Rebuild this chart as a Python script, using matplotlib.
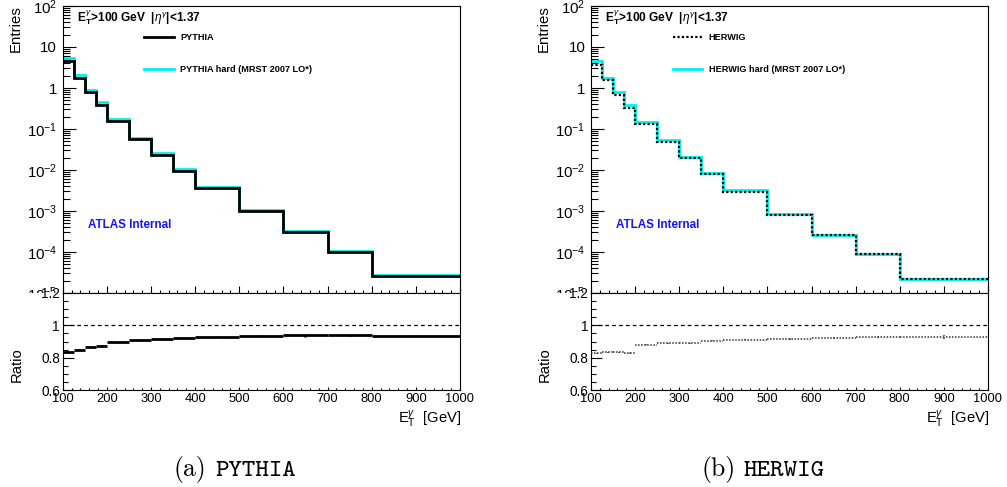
import numpy as np
import matplotlib
matplotlib.use("Agg")
import matplotlib.pyplot as plt
from matplotlib.ticker import FixedLocator, MultipleLocator, LogLocator, NullFormatter, FuncFormatter
from matplotlib.patches import Rectangle

plt.rcParams['font.family'] = ['Liberation Sans', 'DejaVu Sans']
plt.rcParams['mathtext.fontset'] = 'custom'
plt.rcParams['mathtext.rm'] = 'Liberation Sans'
plt.rcParams['mathtext.it'] = 'Liberation Sans:italic'
plt.rcParams['mathtext.bf'] = 'Liberation Sans:bold'
plt.rcParams['mathtext.sf'] = 'Liberation Sans'

# photon E_T binning [GeV]
edges = [100, 125, 150, 175, 200, 250, 300, 350, 400, 500, 600, 700, 800, 1000]

# PYTHIA
pythia_nominal = [4.6, 1.77, 0.79, 0.384, 0.161, 0.0565, 0.0238, 0.00964,
                  0.00363, 9.8e-4, 3.08e-4, 1.02e-4, 2.6e-5]
pythia_hard = [5.25, 2.05, 0.91, 0.445, 0.177, 0.062, 0.0256, 0.0104,
               0.00384, 1.06e-3, 3.25e-4, 1.08e-4, 2.75e-5]
pythia_ratio = [0.832, 0.849, 0.866, 0.874, 0.895, 0.907, 0.915, 0.923,
                0.930, 0.936, 0.938, 0.940, 0.936]
pythia_ratio_err = [0.004, 0.003, 0.003, 0.005, 0.003, 0.003, 0.006, 0.003,
                    0.003, 0.004, 0.008, 0.003, 0.004]

# HERWIG
herwig_nominal = [3.7, 1.53, 0.68, 0.33, 0.132, 0.047, 0.0194, 0.0078,
                  0.0029, 8.0e-4, 2.55e-4, 8.7e-5, 2.15e-5]
herwig_hard = [4.45, 1.74, 0.787, 0.39, 0.147, 0.0525, 0.0209, 0.00847,
               0.00319, 8.47e-4, 2.65e-4, 9.1e-5, 2.25e-5]
herwig_ratio = [0.826, 0.832, 0.832, 0.828, 0.880, 0.888, 0.888, 0.905,
                0.911, 0.915, 0.921, 0.928, 0.928]
herwig_ratio_err = [0.003, 0.003, 0.003, 0.004, 0.003, 0.003, 0.003, 0.003,
                    0.003, 0.004, 0.005, 0.005, 0.012]

W, H = 1007, 487
fig = plt.figure(figsize=(W / 100, H / 100), dpi=100)

CYAN = '#00f0f0'
DOT = (0, (1, 1))


def px(x0, y0, x1, y1):
    """Pixel box (top-left origin) to figure fraction rect."""
    return [x0 / W, 1 - y1 / H, (x1 - x0) / W, (y1 - y0) / H]


def log_label(v, pos):
    e = int(round(np.log10(v)))
    if e == 0:
        return '1'
    if e == 1:
        return '10'
    return r'$10^{%d}$' % e


def panel(x_left, x_right, nominal, hard, ratio, ratio_err,
          name, nominal_style, tag):
    top, mid, bot = 6, 293, 390
    shift = x_left - 62.7
    ax = fig.add_axes(px(x_left, top, x_right, mid), zorder=0)
    rx = fig.add_axes(px(x_left, mid, x_right, bot), zorder=2)

    e = np.array(edges, dtype=float)
    # main spectra
    ax.stairs(hard, e, baseline=None, color=CYAN, lw=2.0, zorder=2,
              label=f'{name} hard (MRST 2007 LO*)')
    if nominal_style == 'solid':
        ax.stairs(nominal, e, baseline=None, color='black', lw=2.0, zorder=3,
                  label=name)
    else:
        ax.stairs(nominal, e, baseline=None, color='black', lw=1.6,
                  linestyle=DOT, zorder=3, label=name)
    ax.set_yscale('log')
    ax.set_xlim(100, 1000)
    ax.set_ylim(1e-5, 1e2)
    ax.yaxis.set_major_locator(LogLocator(base=10, numticks=20))
    ax.yaxis.set_minor_locator(LogLocator(base=10, subs=np.arange(2, 10), numticks=20))
    ax.yaxis.set_minor_formatter(NullFormatter())
    ax.yaxis.set_major_formatter(FuncFormatter(log_label))
    ax.xaxis.set_major_locator(MultipleLocator(100))
    ax.xaxis.set_minor_locator(MultipleLocator(20))
    ax.tick_params(axis='x', which='both', direction='in', labelbottom=False)
    ax.tick_params(axis='x', which='major', length=5, width=0.8)
    ax.tick_params(axis='x', which='minor', length=2.5, width=0.8)
    ax.tick_params(axis='y', which='major', direction='in', length=9.5,
                   width=0.8, labelsize=10.8, pad=4)
    ax.tick_params(axis='y', which='minor', direction='in', length=5, width=0.8)
    for s in ax.spines.values():
        s.set_linewidth(0.8)

    # annotations (pixel positions, top-left origin)
    ax.text(77 + shift, H - 18,
            r'$\mathbf{E}_{\mathbf{T}}^{\gamma}$>100 GeV  |$\eta^{\gamma}$|<1.37',
            transform=None, fontsize=8.6, fontweight='bold',
            va='center', ha='left')
    handles, labels = ax.get_legend_handles_labels()
    order = [1, 0]
    ax.legend([handles[i] for i in order], [labels[i] for i in order],
              loc='upper left', frameon=False,
              bbox_to_anchor=(81.5 / (x_right - x_left), 0.905),
              borderaxespad=0, borderpad=0, handlelength=3.2,
              handletextpad=0.75, labelspacing=2.45,
              prop={'weight': 'bold', 'size': 6.6})
    ax.text(88 + shift, H - 225, 'ATLAS Internal', transform=None,
            color='#1414ff', fontsize=8.4, fontweight='bold', va='center', ha='left')

    # ratio panel
    c = 0.5 * (e[1:] + e[:-1])
    hw = 0.5 * (e[1:] - e[:-1])
    rx.axhline(1.0, color='black', lw=0.9, linestyle=(0, (3, 2.5)), zorder=1)
    if nominal_style == 'solid':
        rx.errorbar(c, ratio, xerr=hw, yerr=ratio_err, fmt='none',
                    ecolor='black', elinewidth=2.0, capsize=0, zorder=3)
    else:
        eb = rx.errorbar(c, ratio, xerr=hw, yerr=ratio_err, fmt='none',
                         ecolor='#333333', elinewidth=1.1, capsize=0, zorder=3)
        for lc in eb[2]:
            lc.set_linestyle(DOT)
    rx.set_xlim(100, 1000)
    rx.set_ylim(0.6, 1.2)
    rx.yaxis.set_major_locator(FixedLocator([0.6, 0.8, 1.0, 1.2]))
    rx.yaxis.set_major_formatter(FuncFormatter(lambda v, p: f'{v:g}'))
    rx.yaxis.set_minor_locator(MultipleLocator(0.05))
    rx.xaxis.set_major_locator(MultipleLocator(100))
    rx.xaxis.set_minor_locator(MultipleLocator(20))
    rx.tick_params(axis='x', which='major', direction='in', length=2.2,
                   width=0.8, labelsize=9.3, pad=2)
    rx.tick_params(axis='x', which='minor', direction='in', length=1.1, width=0.8)
    rx.tick_params(axis='y', which='major', direction='in', length=7.8,
                   width=0.8, labelsize=9.8, pad=2)
    rx.tick_params(axis='y', which='minor', direction='in', length=3.9, width=0.8)
    for s in rx.spines.values():
        s.set_linewidth(0.8)

    # mask the lower half of the bottom log label where the ratio pad starts
    fig.patches.append(Rectangle(((x_left - 40) / W, 0), 38 / W, (H - mid) / H,
                                 transform=fig.transFigure, facecolor='white',
                                 edgecolor='none', zorder=1))

    # axis titles
    fig.text((x_left - 47) / W, 1 - 5 / H, 'Entries', rotation=90,
             fontsize=10.8, ha='center', va='top')
    fig.text((x_left - 46) / W, 1 - 365 / H, 'Ratio', rotation=90,
             fontsize=10.6, ha='center', va='center')
    fig.text((x_right + 1) / W, 1 - 419 / H, r'$\mathrm{E}_{\mathrm{T}}^{\gamma}$  [GeV]',
             fontsize=10.6, ha='right', va='center')

    # sub-caption
    tx = 173 + shift
    fig.text(tx / W, 1 - 476 / H, f'({tag})', family='cmr10', fontsize=18.5,
             ha='left', va='baseline')
    fig.text((tx + 42) / W, 1 - 476 / H, name, family='cmtt10', fontsize=18.5,
             ha='left', va='baseline')
    return ax, rx


panel(62.7, 460, pythia_nominal, pythia_hard, pythia_ratio, pythia_ratio_err,
      'PYTHIA', 'solid', 'a')
panel(591, 988, herwig_nominal, herwig_hard, herwig_ratio, herwig_ratio_err,
      'HERWIG', 'dotted', 'b')

fig.savefig('out.png', dpi=100)
